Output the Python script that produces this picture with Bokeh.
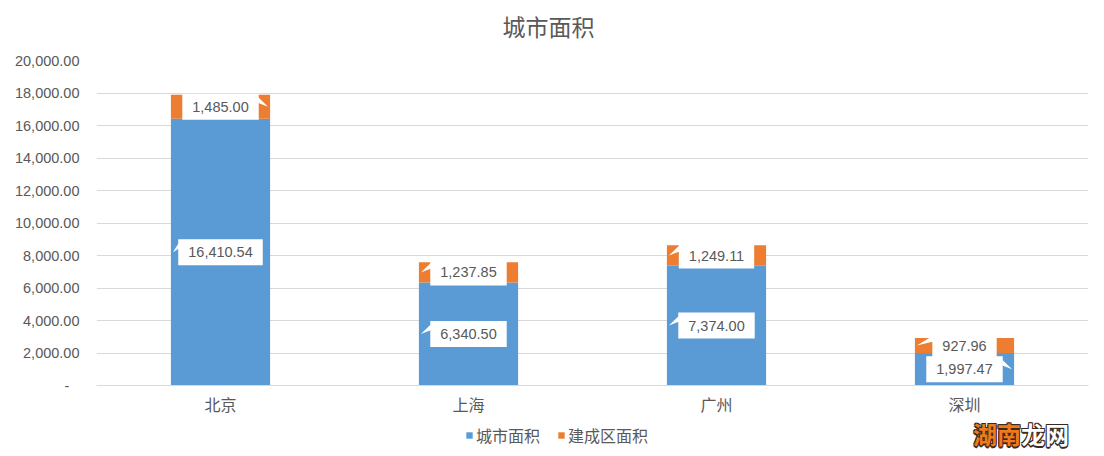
from bokeh.plotting import figure
from bokeh.models import (Range1d, FixedTicker, NumeralTickFormatter, Legend, LegendItem,
                          ColumnDataSource, Div, Label)
from bokeh.layouts import column
from bokeh.core.properties import value
from bokeh.embed import file_html
from bokeh.resources import INLINE

# ---- data ----
cities = ["北京", "上海", "广州", "深圳"]
city_area = [16410.54, 6340.50, 7374.00, 1997.47]
built_area = [1485.00, 1237.85, 1249.11, 927.96]
series_names = ["城市面积", "建成区面积"]
chart_title = "城市面积"
y_ticks = [0, 2000, 4000, 6000, 8000, 10000, 12000, 14000, 16000, 18000, 20000]
city_ptr = ["left", "left", "left", "right"]
built_ptr = ["right", "left", "left", "left"]
watermark = ["湖南", "龙网"]

BLUE = "#5B9BD5"
ORANGE = "#ED7D31"
TXT = "#595959"
GRID = "#D9D9D9"
CJK = "Noto Sans CJK SC"
NUM = "Liberation Sans"

FRAME_W, FRAME_H = 992, 325
BAR_W = 0.4
YMAX = 20000
TOP_H, MAIN_H, LEG_H = 44, 377, 35


def strip(h):
    f = figure(width=1104, height=h, x_range=Range1d(0, 1), y_range=Range1d(0, 1),
               output_backend="svg", toolbar_location=None, x_axis_type=None,
               y_axis_type=None, min_border=0, min_border_left=96, min_border_right=16)
    f.outline_line_color = None
    f.xgrid.grid_line_color = None
    f.ygrid.grid_line_color = None
    return f


# ---- title strip ----
t = strip(TOP_H)
t.add_layout(Label(x=452, y=19, x_units="screen", y_units="screen", text=chart_title,
                   text_align="center", text_baseline="middle", text_font=CJK,
                   text_font_size="23px", text_color=TXT))

# ---- main chart ----
p = figure(width=1104, height=MAIN_H, x_range=Range1d(-0.5, 3.5), y_range=Range1d(0, YMAX),
           output_backend="svg", toolbar_location=None,
           min_border_left=96, min_border_right=16, min_border_top=16, min_border_bottom=36)
p.outline_line_color = None
p.background_fill_color = "white"

xs = list(range(len(cities)))
src = ColumnDataSource(dict(x=xs, city=city_area, built=built_area))
rs = p.vbar_stack(["city", "built"], x="x", width=BAR_W, source=src,
                  color=[BLUE, ORANGE], line_color=None)

for ax in (p.xaxis[0], p.yaxis[0]):
    ax.major_tick_line_color = None
    ax.minor_tick_line_color = None
    ax.major_tick_out = 0
    ax.major_tick_in = 0
    ax.minor_tick_out = 0
    ax.minor_tick_in = 0

p.yaxis.ticker = FixedTicker(ticks=y_ticks)
p.yaxis.formatter = NumeralTickFormatter(format="0,0.00")
p.yaxis.major_label_overrides = {0: "-\u2002\u2009"}
p.yaxis.axis_line_color = None
p.yaxis.major_label_standoff = 17
p.yaxis.major_label_text_font = NUM
p.yaxis.major_label_text_font_size = "14.5px"
p.yaxis.major_label_text_color = TXT

p.xaxis.ticker = FixedTicker(ticks=xs)
p.xaxis.major_label_overrides = {i: c for i, c in enumerate(cities)}
p.xaxis.axis_line_color = GRID
p.xaxis.major_label_standoff = 6
p.xaxis.major_label_text_font = CJK
p.xaxis.major_label_text_font_size = "16px"
p.xaxis.major_label_text_color = TXT

p.xgrid.grid_line_color = None
p.ygrid.ticker = FixedTicker(ticks=y_ticks)
p.ygrid.grid_line_color = GRID

# ---- data callouts ----
FS = 14.5
PADX, PADY = 10, 8
sx = 4.0 / FRAME_W
sy = YMAX / FRAME_H

lx, ly, lt = [], [], []
px_list, py_list = [], []
for i in xs:
    for base, v, d in ((0, city_area[i], city_ptr[i]),
                       (city_area[i], built_area[i], built_ptr[i])):
        cy = base + v / 2.0
        s = f"{v:,.2f}"
        lx.append(i); ly.append(cy); lt.append(s)
        tw = sum(0.556 * FS if ch.isdigit() else 0.278 * FS for ch in s)
        hw = tw / 2 + PADX
        if d == "left":
            xb = i - (hw - 1) * sx
            xt = i - BAR_W / 2 + 2 * sx
        else:
            xb = i + (hw - 1) * sx
            xt = i + BAR_W / 2 - 2 * sx
        px_list.append([xb, xb, xt])
        py_list.append([cy + 10 * sy, cy + 4 * sy, cy])

p.patches(px_list, py_list, fill_color="white", line_color=None)
p.text(lx, ly, text=lt, text_align="center", text_baseline="middle",
       text_font=value(NUM), text_font_size="14.5px", text_color=TXT,
       background_fill_color="white", padding=(PADX, PADY))

# ---- legend strip ----
q = strip(LEG_H)
flat = ColumnDataSource(dict(x=[0.5], top=[0.0], bottom=[0.0]))
lr1 = q.vbar(x="x", top="top", bottom="bottom", width=0.0, source=flat,
             color=BLUE, line_color=None)
lr2 = q.vbar(x="x", top="top", bottom="bottom", width=0.0, source=flat,
             color=ORANGE, line_color=None)
legend = Legend(items=[LegendItem(label=series_names[0], renderers=[lr1]),
                       LegendItem(label=series_names[1], renderers=[lr2])],
                orientation="horizontal", location=(369, 9),
                glyph_width=8, glyph_height=8, label_standoff=3, spacing=17,
                padding=0, margin=0, border_line_color=None, background_fill_alpha=0,
                label_text_font=CJK, label_text_font_size="16px", label_text_color=TXT)
q.add_layout(legend)

# ---- watermark (page overlay) ----
wm = Div(text=(f'<span style="color:#F07A1A">{watermark[0]}</span>'
               f'<span style="color:#ffffff">{watermark[1]}</span>'),
         styles={"position": "absolute", "left": "968px", "top": "413px",
                 "font-family": CJK, "font-size": "24px", "font-weight": "bold",
                 "line-height": "32px", "white-space": "nowrap",
                 "text-shadow": "-1px -1px 0 #3a2a1e, 1px -1px 0 #3a2a1e, "
                                "-1px 1px 0 #3a2a1e, 1px 1px 0 #3a2a1e, "
                                "0 1.5px 0 #3a2a1e, 0 -1.5px 0 #3a2a1e"})

open("out.html", "w").write(file_html([column(t, p, q, spacing=0), wm], INLINE))
